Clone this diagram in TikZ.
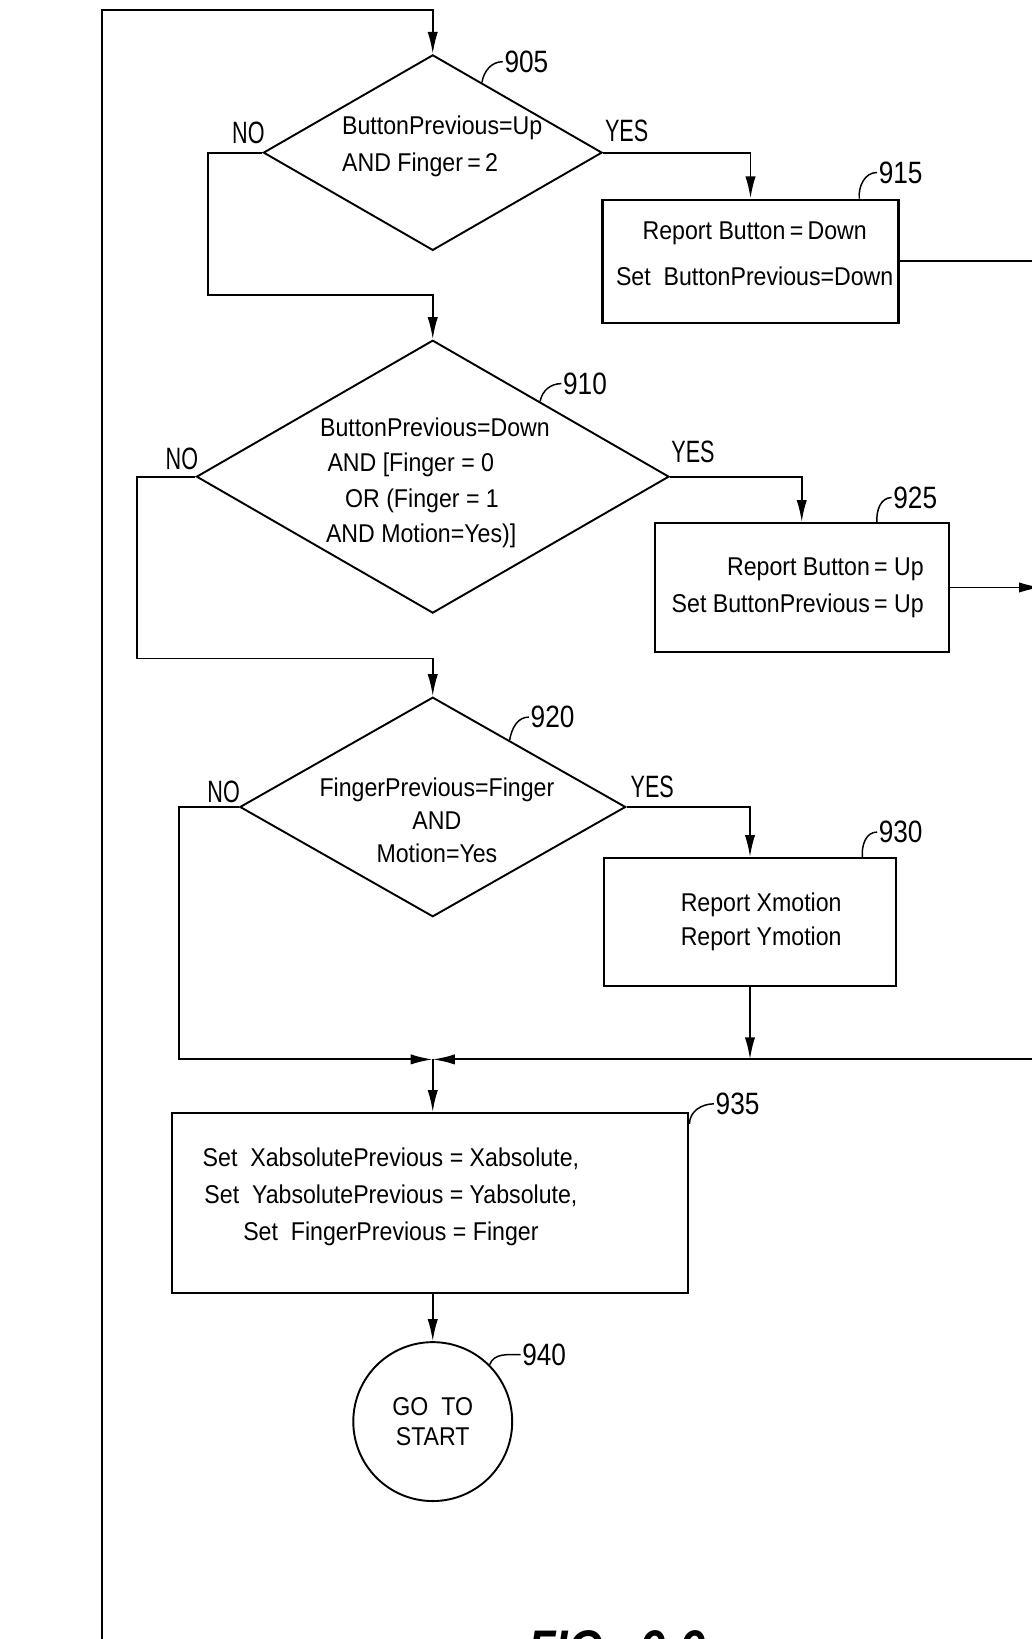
\documentclass[tikz,border=0pt]{standalone}
\usepackage{fontspec}
\setmainfont{Liberation Sans}[FakeStretch=0.9]
\newfontfamily\narrowfont{Liberation Sans}[FakeStretch=0.7]
\newfontfamily\numfont{Liberation Sans}[FakeStretch=0.85]
\usetikzlibrary{arrows.meta}
\usetikzlibrary{shapes.geometric}
\usetikzlibrary{positioning}
\tikzset{
    flow/.style={line width=1.3pt},
    arr/.style={flow, -{Latex[length=15pt,width=7pt]}},
    decision/.style={diamond, draw, line width=1.3pt, inner sep=0pt},
    proc/.style={rectangle, draw, line width=1.5pt, inner sep=0pt},
    txt/.style={inner sep=0pt, font=\fontsize{17.5}{#1}\selectfont},
    yn/.style={inner sep=0pt, font=\fontsize{21}{21}\narrowfont},
    refnum/.style={inner sep=1pt, anchor=west, font=\fontsize{21}{21}\numfont},
    lead/.style={line width=1pt}
}

\begin{document}
\begin{tikzpicture}[x=0.025cm, y=0.025cm]
  \useasboundingbox (0,0) rectangle (987,-1568);
  \fill[white] (0,0) rectangle (987,-1568);

  % shapes
  \node[decision, minimum width=8.1cm, minimum height=4.675cm] (d905) at (414,-146) {};
  \node[decision, minimum width=11.3cm, minimum height=6.525cm] (d910) at (414,-456) {};
  \node[decision, minimum width=9.225cm, minimum height=5.25cm] (d920) at (414,-772) {};
  \node[proc, minimum width=7.075cm, minimum height=2.95cm] (b915) at (718,-250) {};
  \node[proc, minimum width=7.025cm, minimum height=3.075cm] (b925) at (767,-562) {};
  \node[proc, minimum width=6.975cm, minimum height=3.05cm] (b930) at (717.5,-882) {};
  \node[proc, minimum width=12.35cm, minimum height=4.3cm] (b935) at (411.5,-1151) {};
  \node[circle, draw, line width=1.3pt, minimum size=3.8cm, inner sep=0pt, align=center,
        font=\fontsize{17.5}{21}\selectfont] (c940) at (414,-1360) {GO\ \ TO\\START};

  % texts
  \node[txt=25.7, align=left, anchor=west] (t905) at (327,-140) {ButtonPrevious=Up\\AND Finger\,=\,2};
  \node[txt=24.2, align=left, anchor=west] (t910) at (306,-462) {ButtonPrevious=Down\\\hspace{5pt}AND [Finger = 0\\\hspace{17pt}OR (Finger = 1\\\hspace{4pt}AND Motion=Yes)]};
  \node[txt=22.5, align=center] (t920) at (418,-785) {FingerPrevious=Finger\\AND\\Motion=Yes};
  \node[txt=31, align=center] (t915) at (722,-243) {Report Button\,=\,Down\\Set\ \ ButtonPrevious=Down};
  \node[txt=25, align=right, anchor=east] (t925) at (884,-562) {Report Button\,=~Up\\Set ButtonPrevious\,=~Up};
  \node[txt=23, align=left, anchor=west] (t930) at (651,-882) {Report Xmotion\\Report Ymotion};
  \node[txt=25, align=center] (t935) at (374,-1145) {Set\ \ XabsolutePrevious\ = Xabsolute,\\Set\ \ YabsolutePrevious\ = Yabsolute,\\Set\ \ FingerPrevious\ = Finger};

  % yes / no
  \node[yn] (no905) at (237.6,-127) {NO};
  \node[yn] (yes905) at (599.5,-125) {YES};
  \node[yn] (no910) at (174,-439) {NO};
  \node[yn] (yes910) at (663,-432) {YES};
  \node[yn] (no920) at (214,-758) {NO};
  \node[yn] (yes920) at (624,-753) {YES};

  % connectors
  \coordinate (loopin) at (97.6,-1580);
  \coordinate (looptop) at (97.6,-9.6);
  \coordinate (edge) at (996,0);
  \coordinate (j905) at (414,-282);
  \coordinate (j910) at (414,-630);
  \coordinate (merge) at (414,-1013.5);

  \draw[arr] (loopin) -- (looptop) -| (d905.north);
  \draw[arr] (d905.west) -- ++(-52,0) |- (j905) -- (d910.north);
  \draw[arr] (d905.east) -| (b915.north);
  \draw[flow] (b915.east) -- (b915.east -| edge);
  \draw[arr] (d910.west) -- ++(-56,0) |- (j910) -- (d920.north);
  \draw[arr] (d910.east) -| (b925.north);
  \draw[arr] (b925.east) -- (b925.east -| edge);
  \draw[arr] (d920.west) -- ++(-57,0) |- (merge);
  \draw[arr] (d920.east) -| (b930.north);
  \draw[arr] (b930.south) -- (b930.south |- merge);
  \draw[arr] (merge -| edge) -- (merge);
  \draw[arr] (merge) -- (merge |- b935.north);
  \draw[arr] (c940 |- b935.south) -- (c940.north);

  % reference numbers
  \node[refnum] (n905) at (481,-59) {905};
  \node[refnum] (n915) at (839,-165) {915};
  \node[refnum] (n910) at (537,-367) {910};
  \node[refnum] (n925) at (853,-476) {925};
  \node[refnum] (n920) at (506,-686) {920};
  \node[refnum] (n930) at (839,-796) {930};
  \node[refnum] (n935) at (683,-1056) {935};
  \node[refnum] (n940) at (498,-1296) {940};
  \draw[lead] (d905.55) to[out=80,in=180] (n905.west);
  \draw[lead] (b915.30) to[out=95,in=180] (n915.west);
  \draw[lead] (d910.35) to[out=80,in=180] (n910.west);
  \draw[lead] (b925.41) to[out=95,in=180] (n925.west);
  \draw[lead] (d920.41) to[out=80,in=180] (n920.west);
  \draw[lead] (b930.30) to[out=95,in=180] (n930.west);
  \draw[lead] (b935.17) to[out=90,in=180] (n935.west);
  \draw[lead] (c940.45) to[out=70,in=180] (n940.west);

  \node[anchor=base west, inner sep=0pt, font=\fontsize{36}{36}\numfont\bfseries\itshape] (fig) at (505,-1595) {FIG.~~9-9};
\end{tikzpicture}
\end{document}
